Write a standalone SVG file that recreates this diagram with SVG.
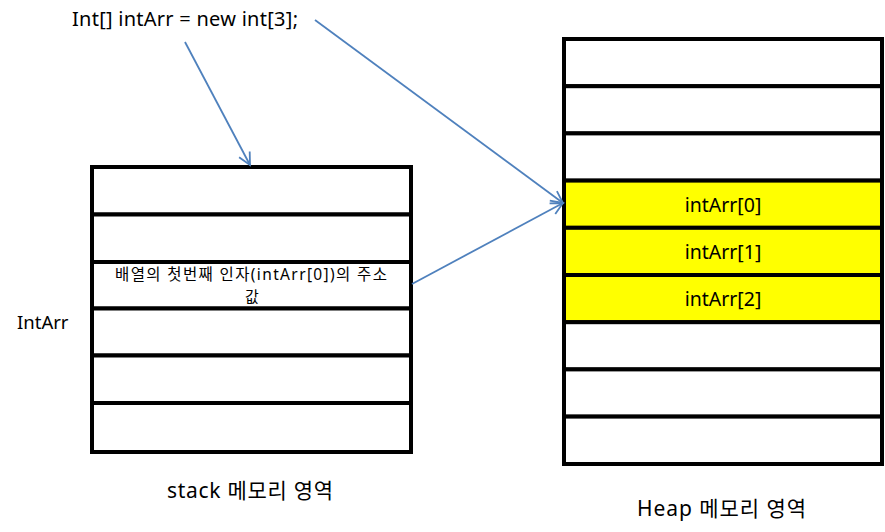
<svg xmlns="http://www.w3.org/2000/svg" width="885" height="532" viewBox="0 0 885 532">
<style>
.t{font-family:"Noto Sans","Noto Sans CJK KR","Liberation Sans",sans-serif;fill:#000}
.cell{fill:#fff;stroke:#000;stroke-width:4}
.hl{fill:#ffff00;stroke:#000;stroke-width:4}
.conn{stroke:#4f81bd;stroke-width:1.8;fill:none}
</style>
<defs>
<marker id="arr" markerUnits="userSpaceOnUse" markerWidth="16" markerHeight="16" viewBox="0 0 16 16" refX="14" refY="8" orient="auto">
<path d="M2,2 L14,8 L2,14" fill="none" stroke="#4f81bd" stroke-width="1.8"/>
</marker>
</defs>
<rect width="885" height="532" fill="#fff"/>
<text class="t" x="72" y="26" font-size="20" textLength="226" lengthAdjust="spacing">Int[] intArr = new int[3];</text>
<text class="t" x="17" y="329" font-size="18.5">IntArr</text>
<g id="stack">
<rect class="cell" x="92" y="167" width="319" height="47.5"/>
<rect class="cell" x="92" y="214.5" width="319" height="47.5"/>
<g id="stack-addr">
<rect class="cell" x="92" y="262" width="319" height="46.5"/>
<text class="t" x="115" y="280" font-size="15.5" textLength="272" lengthAdjust="spacing">배열의 첫번째 인자(intArr[0])의 주소</text>
<text class="t" x="252" y="301.5" font-size="15" text-anchor="middle">값</text>
</g>
<rect class="cell" x="92" y="308.5" width="319" height="47"/>
<rect class="cell" x="92" y="355.5" width="319" height="47.5"/>
<rect class="cell" x="92" y="403" width="319" height="49"/>
</g>
<g id="heap">
<rect class="cell" x="564" y="39" width="318" height="47.2"/>
<rect class="cell" x="564" y="86.2" width="318" height="47.2"/>
<rect class="cell" x="564" y="133.4" width="318" height="47.2"/>
<g id="heap0"><rect class="hl" x="564" y="180.6" width="318" height="47.2"/>
<text class="t" x="723" y="212" font-size="19.5" text-anchor="middle">intArr[0]</text></g>
<g id="heap1"><rect class="hl" x="564" y="227.8" width="318" height="47.2"/>
<text class="t" x="723" y="259" font-size="19.5" text-anchor="middle">intArr[1]</text></g>
<g id="heap2"><rect class="hl" x="564" y="275" width="318" height="47.2"/>
<text class="t" x="723" y="306" font-size="19.5" text-anchor="middle">intArr[2]</text></g>
<rect class="cell" x="564" y="322.2" width="318" height="47.2"/>
<rect class="cell" x="564" y="369.4" width="318" height="47.2"/>
<rect class="cell" x="564" y="416.6" width="318" height="47.4"/>
</g>
<text class="t" x="167" y="498" font-size="21" textLength="166" lengthAdjust="spacing">stack 메모리 영역</text>
<text class="t" x="637" y="516" font-size="21" textLength="169" lengthAdjust="spacing">Heap 메모리 영역</text>
<g id="connectors">
<line class="conn" x1="185" y1="42" x2="250" y2="165" marker-end="url(#arr)"/>
<line class="conn" x1="315" y1="20" x2="563" y2="203" marker-end="url(#arr)"/>
<line class="conn" x1="412" y1="284" x2="563" y2="203" marker-end="url(#arr)"/>
</g>
</svg>
